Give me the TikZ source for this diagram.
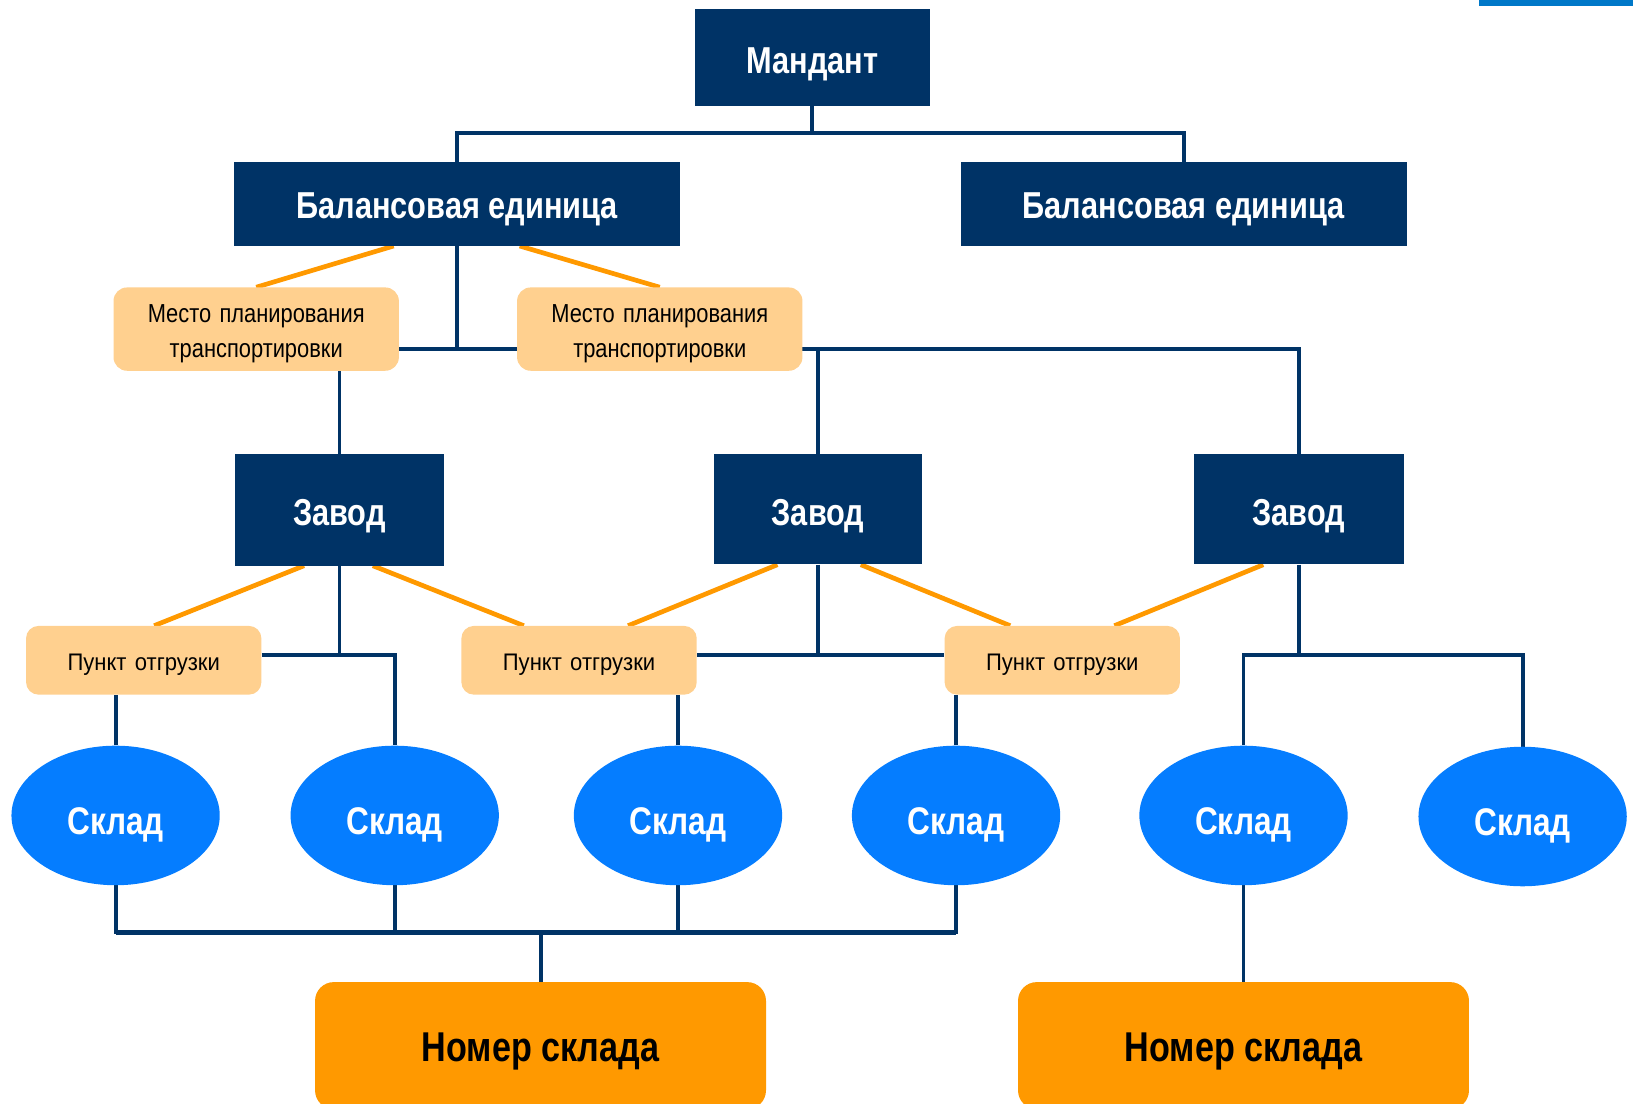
\documentclass[tikz,border=0pt]{standalone}
\usepackage{fontspec}
\setmainfont{Liberation Sans}[FakeStretch=0.82]
\newfontfamily\shipfont{Liberation Sans}[FakeStretch=0.92]
\newfontfamily\planfont{Liberation Sans}[FakeStretch=0.84]
\usetikzlibrary{shapes.geometric,backgrounds,calc}
\definecolor{navy}{RGB}{0,51,102}
\definecolor{lightor}{RGB}{255,208,143}
\definecolor{orng}{RGB}{255,153,0}
\definecolor{sky}{RGB}{5,125,255}
\definecolor{topbar}{RGB}{0,120,200}
\tikzset{
  navybox/.style={rectangle, fill=navy, text=white, inner sep=0pt, text depth=0pt, font=\bfseries\fontsize{36}{40}\selectfont},
  planbox/.style={rectangle, rounded corners=13pt, fill=lightor, text=black, inner sep=0pt,
     minimum width=274pt, minimum height=80pt, text height=54pt, text depth=0pt, font=\planfont\fontsize{25}{33}\selectfont},
  shipbox/.style={rectangle, rounded corners=12pt, fill=lightor, text=black, inner sep=0pt,
     minimum width=226pt, minimum height=66pt, text height=20pt, text depth=0pt, font=\shipfont\fontsize{23}{27}\selectfont},
  store/.style={ellipse, fill=sky, text=white, inner sep=0pt, minimum width=200pt, minimum height=134pt,
     text height=37pt, text depth=0pt, font=\bfseries\fontsize{37}{40}\selectfont},
  numbox/.style={rectangle, rounded corners=18pt, fill=orng, text=black, inner sep=0pt,
     minimum width=433pt, minimum height=122pt, text height=31pt, text depth=0pt, font=\bfseries\fontsize{40}{44}\selectfont},
  navyline/.style={draw=navy, line width=3.8pt},
  orline/.style={draw=orng, line width=4.5pt},
}
\begin{document}
\begin{tikzpicture}[x=1pt,y=-1pt]
\clip (0,0) rectangle (1568,1060);
\fill[topbar] (1420,0) rectangle (1568,5.5);
% level 0
\node[navybox, minimum width=226pt, minimum height=93pt, text height=30pt] (mand) at (780,55.5) {Мандант};
% level 1
\node[navybox, minimum width=428pt, minimum height=80pt, text height=27pt] (bu1) at (439,196) {Балансовая единица};
\node[navybox, minimum width=428pt, minimum height=80pt, text height=27pt] (bu2) at (1136.5,196) {Балансовая единица};
% planning points
\node[planbox] (mp1) at (246,316) {\begin{tabular}[b]{@{}c@{}}Место\hspace{8pt}планирования\\транспортировки\end{tabular}};
\node[planbox] (mp2) at (633.5,316) {\begin{tabular}[b]{@{}c@{}}Место\hspace{8pt}планирования\\транспортировки\end{tabular}};
% plants
\node[navybox, minimum width=200pt, minimum height=107pt, text height=31pt] (z1) at (326,489.5) {Завод};
\node[navybox, minimum width=200pt, minimum height=106pt, text height=31pt] (z2) at (785.5,489) {Завод};
\node[navybox, minimum width=202pt, minimum height=106pt, text height=31pt] (z3) at (1247,489) {Завод};
% shipping points
\node[shipbox] (p1) at (138,634) {Пункт\hspace{8pt}отгрузки};
\node[shipbox] (p2) at (556,634) {Пункт\hspace{8pt}отгрузки};
\node[shipbox] (p3) at (1020,634) {Пункт\hspace{8pt}отгрузки};
% storage locations
\node[store] (s1) at (111,783) {Склад};
\node[store] (s2) at (379,783) {Склад};
\node[store] (s3) at (651,783) {Склад};
\node[store] (s4) at (918,783) {Склад};
\node[store] (s5) at (1194,783) {Склад};
\node[store] (s6) at (1462,784) {Склад};
% warehouse numbers
\node[numbox] (n1) at (519,1004) {Номер склада};
\node[numbox] (n2) at (1194,1004) {Номер склада};
% junctions
\coordinate (j0) at (mand.south |- 0,128);
\coordinate (j1) at (bu1.south |- 0,335);
\coordinate (b1) at (z1.south |- 0,629);
\coordinate (b2) at (z2.south |- b1);
\coordinate (b3) at (z3.south |- b1);
\coordinate (b4) at (n1.north |- 0,895);
\begin{scope}[on background layer]
\draw[navyline] (mand.south) -- (j0);
\draw[navyline] (bu1.north) |- (j0) -| (bu2.north);
\draw[navyline] (bu1.south) -- (j1);
\draw[navyline] (z1.north) |- (j1) -| (z3.north);
\draw[navyline] (z2.north) -- (z2.north |- j1);
\draw[orline] ($(bu1.south)+(-61,0)$) -- (mp1.north);
\draw[orline] ($(bu1.south)+(60,0)$) -- (mp2.north);
\draw[navyline] (z1.south) -- (b1) -| (s2.north);
\draw[navyline] (p1.east |- b1) -- (b1);
\draw[navyline] (z2.south) -- (b2);
\draw[navyline] (p2.east |- b2) -- (p3.west |- b2);
\draw[navyline] (z3.south) -- (b3);
\draw[navyline] (s5.north) |- (b3) -| (s6.north);
\draw[orline] ($(z1.south)+(-34,0)$) -- ($(p1.north)+(10,0)$);
\draw[orline] ($(z1.south)+(32,0)$) -- ($(p2.north)+(-53,0)$);
\draw[orline] ($(z2.south)+(-39,0)$) -- ($(p2.north)+(47,0)$);
\draw[orline] ($(z2.south)+(41,0)$) -- ($(p3.north)+(-50,0)$);
\draw[orline] ($(z3.south)+(-34,0)$) -- ($(p3.north)+(50,0)$);
\draw[navyline] (s1.north) -- (s1.north |- p1.south);
\draw[navyline] (s3.north) -- (s3.north |- p2.south);
\draw[navyline] (s4.north) -- (s4.north |- p3.south);
\draw[navyline] (s1.south) |- (b4);
\draw[navyline] (s4.south) |- (b4);
\draw[draw=navy, line width=5pt] (s1.south |- b4) -- (s4.south |- b4);
\draw[navyline] (s2.south) -- (s2.south |- b4);
\draw[navyline] (s3.south) -- (s3.south |- b4);
\draw[navyline] (b4) -- (n1.north);
\draw[navyline] (s5.south) -- (n2.north);
\end{scope}
\end{tikzpicture}
\end{document}
